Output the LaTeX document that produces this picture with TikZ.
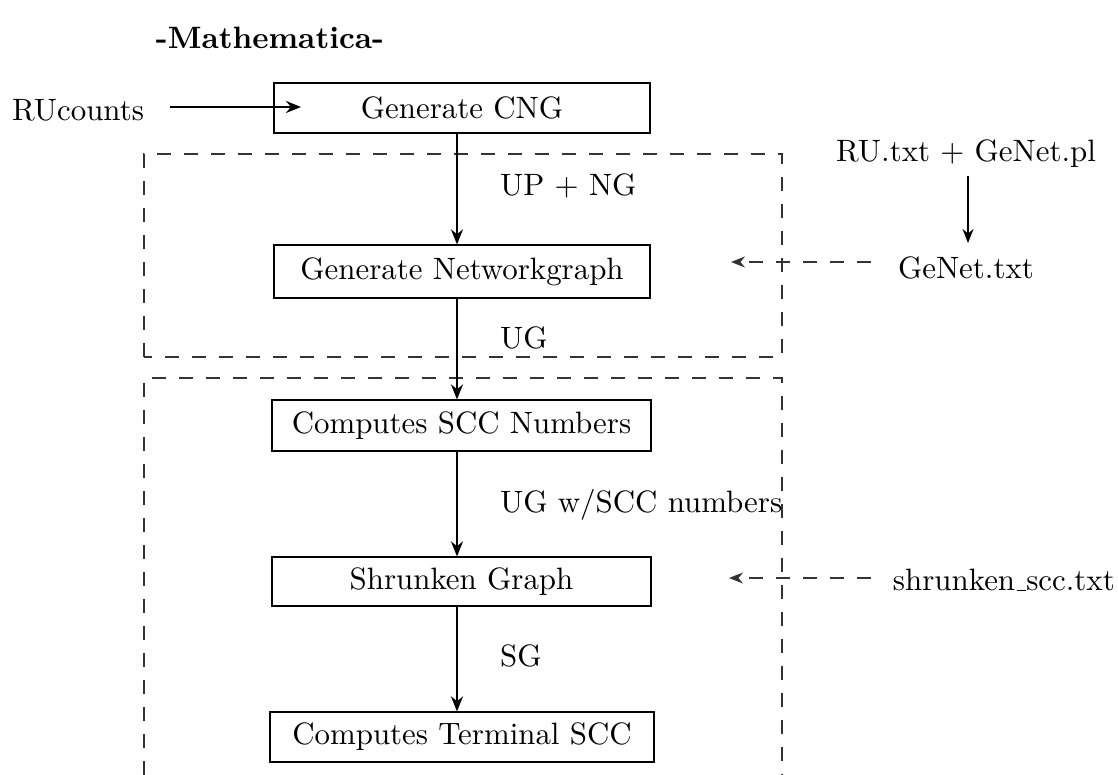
\documentclass[tikz,border=0pt]{standalone}
\usepackage{fontspec}
% keep the 10pt design size at every scale
\setmainfont{lmroman10-regular.otf}[BoldFont=lmroman10-bold.otf]
\usetikzlibrary{arrows.meta}
% classic rule-style underscore
\newcommand{\ruleus}{\leavevmode\kern.06em\vbox{\hrule width.3em}}
\begin{document}
\begin{tikzpicture}[x=1pt,y=-1pt,
  every node/.style={font=\fontsize{30.9}{37}\selectfont},
  txt/.style={inner sep=0pt},
  procbox/.style={draw=black,line width=1.2pt,rectangle,inner sep=0pt},
  flow/.style={line width=2.2pt,-{Stealth[length=15pt,width=12pt]}},
  feed/.style={line width=1.6pt,draw=black!80,dash pattern=on 14pt off 13pt,-{Stealth[length=14pt,width=11pt]}},
  region/.style={line width=1.6pt,draw=black!80,dash pattern=on 14pt off 13pt}]
\useasboundingbox (0,0) rectangle (1118,775);

% title
\node[txt,font=\fontsize{30.9}{37}\selectfont\bfseries] (title) at (270,38) {-Mathematica-};

% dashed grouping regions
\draw[region] (144,357) -- (144,154) -- (782,154) -- (782,357) -- cycle;
\draw[region] (144,775) -- (144,378) -- (782,378) -- (782,775);

% processing steps
\node[procbox,minimum width=376pt,minimum height=50pt] (cng) at (462,108) {Generate CNG};
\node[procbox,minimum width=376pt,minimum height=53pt] (ng) at (462,271.5) {Generate Networkgraph};
\node[procbox,minimum width=379pt,minimum height=51pt] (scc) at (461.5,425.5) {Computes SCC Numbers};
\node[procbox,minimum width=379pt,minimum height=49pt] (sg) at (461.5,581.5) {Shrunken Graph};
\node[procbox,minimum width=384pt,minimum height=50pt] (term) at (462,737) {Computes Terminal SCC};

% main flow along one vertical line
\coordinate (spine) at (457,0);
\draw[flow] (cng.south -| spine) -- (ng.north -| spine);
\draw[flow] (ng.south -| spine) -- (scc.north -| spine);
\draw[flow] (scc.south -| spine) -- (sg.north -| spine);
\draw[flow] (sg.south -| spine) -- (term.north -| spine);

% flow labels
\node[txt,anchor=west] (l1) at (500,186) {UP + NG};
\node[txt,anchor=west] (l2) at (500,338) {UG};
\node[txt,anchor=west] (l3) at (500,505) {UG w/SCC numbers};
\node[txt,anchor=west] (l4) at (500,656) {SG};

% input counts
\node[txt] (ru) at (78,110) {RUcounts};
\coordinate (rustart) at (170,107);
\coordinate (rutip) at (301,107);
\draw[flow] (rustart) -- (rutip);

% external files
\node[txt] (src) at (966,154) {RU.txt + GeNet.pl};
\node[txt] (genet) at (966,268) {GeNet.txt};
\node[txt,anchor=east] (shr) at (1115,580) {shrunken\ruleus scc.txt};
\coordinate (srcout) at (968,176);
\coordinate (genetin) at (968,243);
\draw[line width=1.5pt,-{Stealth[length=14pt,width=11pt]}] (srcout) -- (genetin);

\coordinate (gstart) at (871,262);
\coordinate (gtip) at (731,262);
\coordinate (sstart) at (871,578);
\coordinate (stip) at (729,578);
\draw[feed] (gstart) -- (gtip);
\draw[feed] (sstart) -- (stip);
\end{tikzpicture}
\end{document}
